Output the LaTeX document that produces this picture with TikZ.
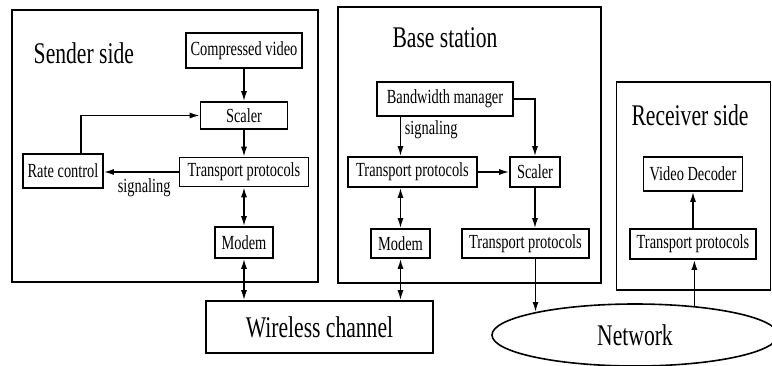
\documentclass[tikz,border=0pt]{standalone}
\usepackage{fontspec}
\setmainfont{Liberation Serif}
\newfontfamily\narrowserif{Liberation Serif}[FakeStretch=0.72]
\usepackage{tikz}
\usetikzlibrary{arrows.meta, shapes.geometric}

\tikzset{
	part/.style={draw, line width=1.6pt, inner sep=0pt},
	blk/.style={draw, line width=1.6pt, inner sep=0pt, font=\narrowserif\fontsize{20}{20}\selectfont},
	bigblk/.style={blk, font=\narrowserif\fontsize{30}{30}\selectfont},
	ttl/.style={inner sep=0pt, font=\narrowserif\fontsize{30}{30}\selectfont},
	lbl/.style={inner sep=0pt, font=\narrowserif\fontsize{20}{20}\selectfont},
}

\begin{document}
\begin{tikzpicture}[x=1pt, y=-1pt, >={Latex[length=10pt,width=6pt]}, line width=1.5pt]
					\useasboundingbox (0,0) rectangle (772,365);

					\begin{scope}
						\node[part, minimum width=306, minimum height=272] (sender) at (165,146) {};
						\node[part, minimum width=263, minimum height=276] (base) at (469.5,145) {};
						\node[part, minimum width=154, minimum height=208] (recv) at (693.5,186) {};

						\node[ttl, anchor=base west] (senderT) at (33,63) {Sender side};
						\node[ttl, anchor=base] (baseT) at (445,47) {Base station};
						\node[ttl, anchor=base] (recvT) at (690,125) {Receiver side};
					\end{scope}

					\begin{scope}
						\node[blk, minimum width=116, minimum height=35] (video) at (244,50.5) {Compressed video};
						\node[blk, minimum width=87, minimum height=27] (scalerS) at (244,115.5) {Scaler};
						\node[blk, minimum width=129, minimum height=29] (tpS) at (244,172) {Transport protocols};
						\node[blk, minimum width=80, minimum height=34] (rate) at (63,171) {Rate control};
						\node[blk, minimum width=58, minimum height=31] (modemS) at (244,242.5) {Modem};
						\node[lbl, anchor=base west] (sigS) at (117,192) {signaling};

						\node[blk, minimum width=136, minimum height=34] (bwm) at (445,99) {Bandwidth manager};
						\node[blk, minimum width=129, minimum height=30] (tpB) at (412.5,172) {Transport protocols};
						\node[blk, minimum width=50, minimum height=30] (scalerB) at (535,172) {Scaler};
						\node[blk, minimum width=59, minimum height=29] (modemB) at (400.5,243.5) {Modem};
						\node[blk, minimum width=127, minimum height=29] (tpB2) at (525.5,243.5) {Transport protocols};
						\node[lbl, anchor=base west] (sigB) at (404,134) {signaling};

						\node[blk, minimum width=99, minimum height=34] (decoder) at (693,174) {Video Decoder};
						\node[blk, minimum width=126, minimum height=30] (tpR) at (693,244) {Transport protocols};

						\node[bigblk, minimum width=227, minimum height=52] (wireless) at (319.5,327) {Wireless channel};
						\node[bigblk, ellipse, minimum width=286, minimum height=62] (net) at (635,335) {Network};
					\end{scope}

					\begin{scope}[->]
						\draw (video) -- (scalerS);
						\draw (scalerS) -- (tpS);
						\draw (tpS.west) -- (tpS.west -| rate.east);
						\draw ([xshift=18pt]rate.north) |- (scalerS.west);

						\draw (modemB |- bwm.south) -- (modemB |- tpB.north);
						\draw (bwm.east) -| (scalerB.north);
						\draw (tpB) -- (scalerB);
						\draw (scalerB.south) -- (scalerB |- tpB2.north);
						\draw (tpB2.south -| net.167.54) -- (net.167.54);

						\draw (net.26) -- (net.26 |- tpR.south);
						\draw (tpR) -- (decoder);
					\end{scope}

					\begin{scope}[<->]
						\draw (tpS) -- (modemS);
						\draw (modemS.south) -- (modemS |- wireless.north);
						\draw (modemB |- tpB.south) -- (modemB.north);
						\draw (modemB.south) -- (modemB |- wireless.north);
					\end{scope}
				\end{tikzpicture}
\end{document}
